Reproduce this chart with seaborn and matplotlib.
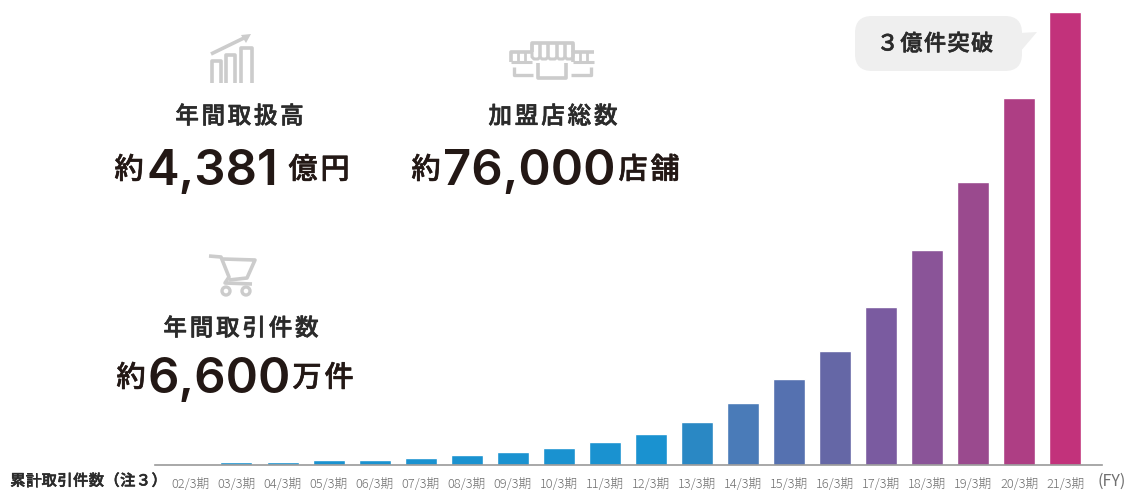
import matplotlib
matplotlib.use("Agg")
import matplotlib.pyplot as plt
import matplotlib.patheffects as pe
from matplotlib.patches import FancyBboxPatch, Polygon, Circle
import pandas as pd
import seaborn as sns

periods = ["02/3期", "03/3期", "04/3期", "05/3期", "06/3期", "07/3期", "08/3期", "09/3期", "10/3期", "11/3期",
           "12/3期", "13/3期", "14/3期", "15/3期", "16/3期", "17/3期", "18/3期", "19/3期", "20/3期", "21/3期"]
cumulative_oku = [0.003, 0.020, 0.021, 0.030, 0.036, 0.046, 0.066, 0.085, 0.112, 0.152,
                  0.207, 0.287, 0.412, 0.572, 0.755, 1.045, 1.425, 1.875, 2.430, 3.000]

sns.set_theme(style="white")
JP = ["Noto Sans CJK JP", "DejaVu Sans"]
plt.rcParams["font.family"] = JP

W, H = 1129, 490
fig = plt.figure(figsize=(W / 100, H / 100), dpi=100, facecolor="white")

# bar axes: left 155 px, right 1102 px, baseline at 465 px, top at 0 px
ax = fig.add_axes([155 / W, (H - 465) / H, (1102 - 155) / W, 465 / H])
df = pd.DataFrame({"period": periods, "value": cumulative_oku})
colors = (["#1a92d0"] * 11
          + sns.blend_palette(["#2a88c4", "#4a7bb8", "#5571b0", "#6567a6", "#7a5ba0",
                               "#8a5498", "#9a4a8e", "#ad3e84", "#c2327b"], 9))
sns.barplot(data=df, x="period", y="value", hue="period", palette=colors, legend=False,
            width=32 / 46.05, saturation=1, ax=ax)
ax.set_xlim((155 - 190.4) / 46.05, (1102 - 190.4) / 46.05)
ax.set_ylim(0, 3.0 * 465 / 453)
ax.set_xlabel("")
ax.set_ylabel("")
ax.set_yticks([])
for s in ["top", "left", "right"]:
    ax.spines[s].set_visible(False)
ax.spines["bottom"].set_color("#9a9a9a")
ax.spines["bottom"].set_linewidth(1.2)
ax.patch.set_alpha(0)
ax.tick_params(axis="x", length=0, pad=8.5, labelsize=9.2, labelcolor="#707070")
for t in ax.get_xticklabels():
    t.set_fontweight("light")

# overlay in pixel coordinates for the annotations
ov = fig.add_axes([0, 0, 1, 1])
ov.set_xlim(0, W)
ov.set_ylim(H, 0)
ov.axis("off")
ov.patch.set_alpha(0)

DARK = "#231815"
ICON = "#cccccc"


def label(x, y, s, size, color="#2b2b2b", ha="center", stroke=0.4, weight="medium", family=JP):
    t = ov.text(x, y, s, fontsize=size, fontweight=weight, color=color, ha=ha, va="center", family=family)
    if stroke:
        t.set_path_effects([pe.withStroke(linewidth=stroke, foreground=color)])


def spaced(x0, x1, y, s, size, color="#2b2b2b", stroke=0.4):
    step = (x1 - x0) / len(s)
    for i, ch in enumerate(s):
        label(x0 + step * (i + 0.5), y, ch, size, color, stroke=stroke)


def big(prefix_x, num_x, unit_x0, unit_x1, y, num, unit):
    label(prefix_x, y, "約", 21, DARK, stroke=0.4)
    label(num_x, y + 1.5, num, 35.3, DARK, stroke=0, weight="semibold", family=["Inter", "Liberation Sans"])
    spaced(unit_x0, unit_x1, y, unit, 21, DARK, stroke=0.4)


spaced(174, 305, 117, "年間取扱高", 17)
big(129, 212, 287, 351, 170, "4,381", "億円")
spaced(487, 619, 117, "加盟店総数", 17)
big(426, 529, 617, 681, 170, "76,000", "店舗")
spaced(162, 320, 329, "年間取引件数", 17)
big(131, 219, 291, 355, 378, "6,600", "万件")

spaced(10, 167, 481, "累計取引件数（注３）", 11, stroke=0.4)
label(1112, 481, "(FY)", 11.5, "#707070", stroke=0, weight="regular")

# speech bubble
ov.add_patch(FancyBboxPatch((855, 16), 167, 55, boxstyle="round,pad=0,rounding_size=17",
                            fc="#efefef", ec="none"))
ov.add_patch(Polygon([(1020, 33), (1037, 32), (1020, 52)], fc="#efefef", ec="none"))
spaced(876, 994, 44, "３億件突破", 16)


def line(pts, lw=2.6, color=ICON):
    xs, ys = zip(*pts)
    ov.plot(xs, ys, color=color, lw=lw, solid_capstyle="butt", solid_joinstyle="round")


# growth icon
for x0, x1, top in [(212, 221, 61), (226, 235, 55), (241, 252, 48)]:
    line([(x0, 83), (x0, top), (x1, top), (x1, 83)])
line([(211, 54), (246, 37)])
ov.add_patch(Polygon([(251, 34), (241, 35), (246, 43)], fc=ICON, ec="none"))

# store icon
line([(532, 52), (532, 43), (573, 43), (573, 52)], 2.6)
for x0, x1 in [(532, 540), (540, 548), (548, 557), (557, 565), (565, 573)]:
    line([(x0, 44), (x0, 57), (x0 + 2, 59), (x1 - 2, 59), (x1, 57), (x1, 44)], 2.2)
for xs in [(511, 518, 525, 532), (573, 580, 587, 594)]:
    line([(xs[0], 62), (xs[0], 52), (xs[3], 52)], 2.6)
    line([(xs[0], 62), (xs[3], 62)], 2.2)
    for x in xs[1:3]:
        line([(x, 52), (x, 61)], 2)
line([(514, 67), (514, 75), (533, 75)], 2.4)
line([(591, 67), (591, 75), (571, 75)], 2.4)
line([(538, 63), (538, 78), (566, 78), (566, 63)], 2.6)

# cart icon
line([(209, 256), (221, 257), (229, 277), (225, 283), (252, 284)], 2.6)
line([(223, 259), (255, 260), (247, 278), (229, 280)], 2.6)
for x in (226, 246):
    ov.add_patch(Circle((x, 291), 4, fc="none", ec=ICON, lw=2.4))

fig.savefig("out.png", dpi=100, facecolor="white")
